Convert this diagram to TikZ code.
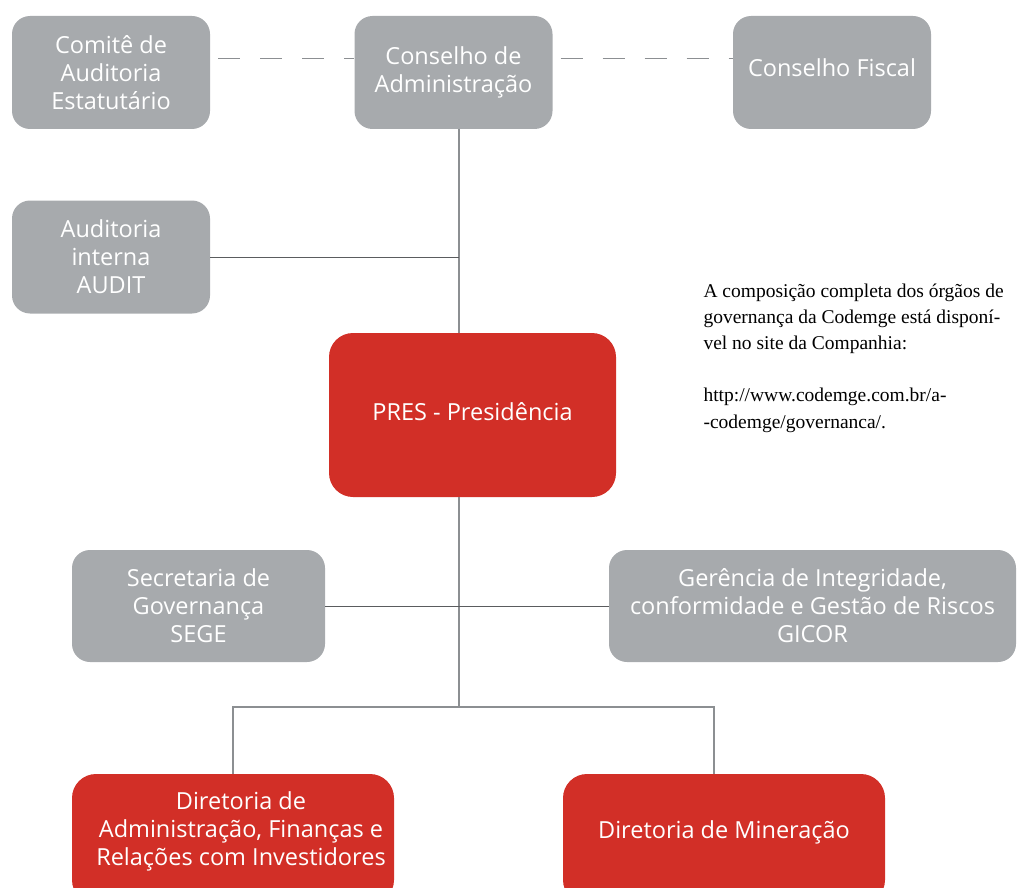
\documentclass[tikz,border=0pt]{standalone}
\usepackage{fontspec}
\setmainfont{Open Sans}
\newfontfamily\notefont{Liberation Serif}
\definecolor{boxgray}{HTML}{A7AAAD}
\definecolor{boxred}{HTML}{D22F27}
\definecolor{linegray}{HTML}{8C8F92}
\definecolor{linedark}{HTML}{5A5C5E}

\begin{document}
\begin{tikzpicture}[
  x=1pt, y=-1pt,
  graynode/.style={rectangle, rounded corners=18pt, fill=boxgray, text=white, align=center,
    minimum width=198pt, minimum height=113pt, font=\fontsize{23.5}{28}\selectfont},
  rednode/.style={rectangle, rounded corners=24pt, fill=boxred, text=white, align=center,
    font=\fontsize{23.5}{28}\selectfont},
  spineline/.style={draw=linegray, line width=1.5pt},
  thinline/.style={draw=linedark, line width=1pt},
  dashline/.style={draw=linegray, line width=1.8pt, dash pattern=on 22pt off 20pt, dash phase=34pt},
]
\useasboundingbox (0,0) rectangle (1023,888);

\node[graynode] (comite) at (111,72.5) {Comitê de\\Auditoria\\Estatutário};
\node[graynode] (conselho) at (453.5,72.5) {Conselho de\\Administração};
\node[graynode, text depth=10pt] (fiscal) at (832,72.5) {Conselho Fiscal};

\node[graynode] (audit) at (111,257) {Auditoria\\interna\\AUDIT};

\node[rednode, text depth=8pt, minimum width=287pt, minimum height=164pt] (pres) at (472.5,415) {PRES - Presidência};

\node[graynode, minimum width=253pt, minimum height=112pt] (sege) at (198.5,606) {Secretaria de\\Governança\\SEGE};
\node[graynode, minimum width=407pt, minimum height=112pt] (gicor) at (812.5,606) {Gerência de Integridade,\\conformidade e Gestão de Riscos\\GICOR};

\node[rednode, minimum width=322pt, minimum height=130pt] (dafi) at (233,839) {};
\node[font=\fontsize{23.5}{28}\selectfont, text=white, align=center] (dafitext) at (241,831) {Diretoria de\\Administração, Finanças e\\Relações com Investidores};
\node[rednode, minimum width=322pt, minimum height=130pt] (dmin) at (724,839) {};
\node[font=\fontsize{23.5}{28}\selectfont, text=white] (dmintext) at (724,832) {Diretoria de Mineração};

\node[anchor=north west, align=left, font=\notefont\fontsize{19.5}{26.2}\selectfont] (nota) at (700,280)
  {A composição completa dos órgãos de\\governança da Codemge está disponí-\\vel no site da Companhia:\\[26.2pt]
   http://www.codemge.com.br/a-\\-codemge/governanca/.};

\coordinate (spine) at (459,0);
\coordinate (branch) at (459,707);
\coordinate (right) at (714,707);

\draw[dashline] ([yshift=14pt]comite.east) -- ([yshift=14pt]conselho.west);
\draw[dashline] ([yshift=14pt]conselho.east) -- ([yshift=14pt]fiscal.west);

\draw[spineline] (conselho.south -| spine) -- (pres.north -| spine);
\draw[thinline] (audit.east) -- (audit.east -| spine);

\draw[spineline] (pres.south -| spine) -- (branch);
\draw[thinline] (sege.east) -- (gicor.west);

\draw[spineline] (dafi.north) -- (dafi.north |- branch) -- (right) -- (right |- dmin.north);

\end{tikzpicture}
\end{document}
